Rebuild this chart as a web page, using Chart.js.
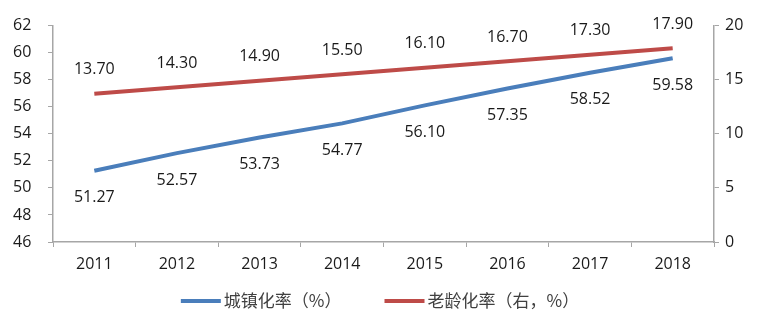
<!DOCTYPE html>
<html>
<head>
<meta charset="utf-8">
<script src="https://cdn.jsdelivr.net/npm/chart.js@4"></script>
<style>
  html, body { margin: 0; padding: 0; background: #fff; }
  #wrap { width: 760px; height: 320px; }
</style>
</head>
<body>
<div id="wrap"><canvas id="urbanChart"></canvas></div>
<script>
const years = ['2011', '2012', '2013', '2014', '2015', '2016', '2017', '2018'];
const urbanRate = [51.27, 52.57, 53.73, 54.77, 56.10, 57.35, 58.52, 59.58];
const agingRate = [13.70, 14.30, 14.90, 15.50, 16.10, 16.70, 17.30, 17.90];
const leftTicks = [46, 48, 50, 52, 54, 56, 58, 60, 62];
const rightTicks = [0, 5, 10, 15, 20];

const axisColor = '#a6a6a6';
const tickFont = { family: 'Open Sans', size: 16 };

// value labels above/below each point
const pointLabels = {
    id: 'pointLabels',
    afterDatasetsDraw(chart) {
        const c = chart.ctx;
        c.save();
        c.font = '16px "Open Sans"';
        c.fillStyle = '#1a1a1a';
        c.textAlign = 'center';
        c.textBaseline = 'middle';
        chart.data.datasets.forEach((ds, i) => {
            const meta = chart.getDatasetMeta(i);
            meta.data.forEach((pt, j) => {
                const dy = ds.yAxisID === 'y1' ? -24 : 27;
                c.fillText(ds.data[j].toFixed(2), pt.x, pt.y + dy);
            });
        });
        c.restore();
    }
};

// excel-like legend: line swatch directly followed by text
const bottomLegend = {
    id: 'bottomLegend',
    afterDraw(chart) {
        const c = chart.ctx;
        const sets = chart.data.datasets;
        const lineW = 40, gapText = 3, gapItem = 43, y = 301;
        c.save();
        c.font = '17px "Noto Sans CJK SC"';
        const widths = sets.map(ds => lineW + gapText + c.measureText(ds.label).width);
        const total = widths.reduce((a, b) => a + b, 0) + gapItem * (sets.length - 1);
        let x = (chart.width - total) / 2;
        c.textBaseline = 'middle';
        sets.forEach((ds, i) => {
            c.strokeStyle = ds.borderColor;
            c.lineWidth = 4;
            c.beginPath();
            c.moveTo(x, y);
            c.lineTo(x + lineW, y);
            c.stroke();
            c.fillStyle = '#404040';
            c.fillText(ds.label, x + lineW + gapText, y);
            x += widths[i] + gapItem;
        });
        c.restore();
    }
};

new Chart(document.getElementById('urbanChart').getContext('2d'), {
    type: 'line',
    data: {
        labels: years,
        datasets: [{
            label: '城镇化率（%）',
            data: urbanRate,
            borderColor: '#4a7ebb',
            backgroundColor: '#4a7ebb',
            borderWidth: 4,
            pointRadius: 0,
            tension: 0,
            yAxisID: 'y'
        }, {
            label: '老龄化率（右，%）',
            data: agingRate,
            borderColor: '#be4b48',
            backgroundColor: '#be4b48',
            borderWidth: 4,
            pointRadius: 0,
            tension: 0,
            yAxisID: 'y1'
        }]
    },
    options: {
        responsive: true,
        maintainAspectRatio: false,
        animation: false,
        layout: { padding: { top: 23, bottom: 0, left: 13, right: 0 } },
        plugins: {
            tooltip: { enabled: false },
            legend: { display: false }
        },
        scales: {
            x: {
                offset: true,
                afterFit: s => { s.height = 78; },
                grid: { display: true, drawOnChartArea: false, offset: true, tickLength: 5, color: axisColor },
                border: { color: axisColor, width: 1.5 },
                ticks: { color: '#1a1a1a', font: tickFont, padding: 8, maxRotation: 0 }
            },
            y: {
                position: 'left',
                min: 46,
                max: 62,
                afterBuildTicks: s => { s.ticks = leftTicks.map(v => ({ value: v })); },
                afterFit: s => { s.width = 40; },
                grid: { drawOnChartArea: false, tickLength: 5, color: axisColor },
                border: { color: axisColor, width: 1.5 },
                ticks: { color: '#1a1a1a', font: tickFont, padding: 16, crossAlign: 'far' }
            },
            y1: {
                position: 'right',
                min: 0,
                max: 20,
                afterBuildTicks: s => { s.ticks = rightTicks.map(v => ({ value: v })); },
                afterFit: s => { s.width = 46; },
                grid: { drawOnChartArea: false, tickLength: 5, color: axisColor },
                border: { color: axisColor, width: 1.5 },
                ticks: { color: '#1a1a1a', font: tickFont, padding: 6 }
            }
        }
    },
    plugins: [pointLabels, bottomLegend]
});
</script>
</body>
</html>
